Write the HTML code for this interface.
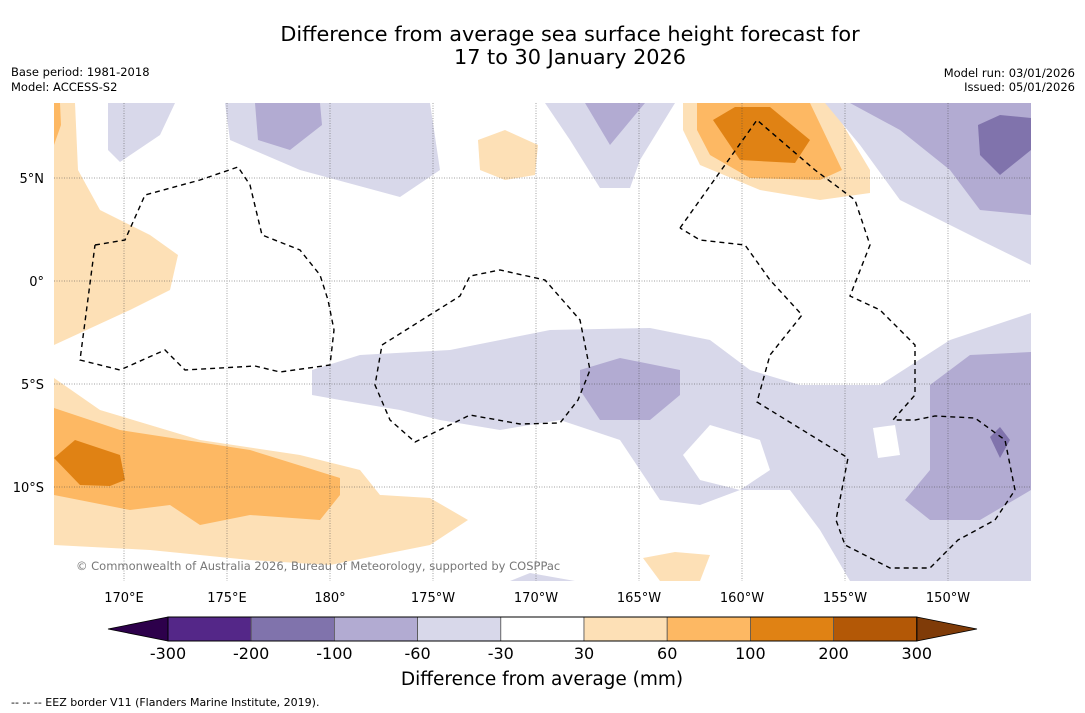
<!DOCTYPE html>
<html><head><meta charset="utf-8"><style>
body{margin:0;background:#fff;font-family:"DejaVu Sans","Liberation Sans",sans-serif}
svg{display:block}
</style></head><body>
<svg id="c" width="1085" height="713" viewBox="0 0 1085 713">
<text x="570" y="41" font-size="20.8" text-anchor="middle">Difference from average sea surface height forecast for</text>
<text x="570" y="64" font-size="20.8" text-anchor="middle">17 to 30 January 2026</text>
<text x="11" y="76" font-size="11.5">Base period: 1981-2018</text>
<text x="11" y="91" font-size="11.5">Model: ACCESS-S2</text>
<text x="1075" y="77" font-size="11.5" text-anchor="end">Model run: 03/01/2026</text>
<text x="1075" y="91" font-size="11.5" text-anchor="end">Issued: 05/01/2026</text>
<defs><clipPath id="mc"><rect x="54" y="103" width="977" height="478"/></clipPath></defs>
<g clip-path="url(#mc)">
<g stroke="none">
<path fill="#fde0b6" d="M54,103 L75,103 L78,170 L100,210 L150,235 L178,255 L170,290 L130,310 L54,345Z"/>
<path fill="#fdb863" d="M54,103 L60,103 L61,125 L54,145Z"/>
<path fill="#fde0b6" d="M54,378 L100,410 L200,440 L300,455 L360,470 L380,495 L430,498 L468,520 L430,545 L330,565 L250,560 L150,550 L54,545Z"/>
<path fill="#fdb863" d="M54,408 L120,430 L250,450 L340,478 L340,495 L320,520 L250,515 L200,525 L170,505 L130,510 L54,495Z"/>
<path fill="#e08214" d="M54,458 L75,440 L120,455 L125,480 L110,486 L80,485Z"/>
<path fill="#d8d8ea" d="M108,103 L175,103 L160,135 L120,162 L108,150Z"/>
<path fill="#d8d8ea" d="M225,103 L430,103 L440,170 L400,197 L300,170 L230,140Z"/>
<path fill="#b2abd2" d="M255,103 L320,103 L322,125 L290,150 L258,140Z"/>
<path fill="#d8d8ea" d="M545,103 L675,103 L640,160 L630,188 L600,188 L570,140Z"/>
<path fill="#b2abd2" d="M585,103 L645,103 L610,145Z"/>
<path fill="#fde0b6" d="M478,140 L505,130 L538,145 L535,175 L505,180 L480,170Z"/>
<path fill="#fde0b6" d="M683,103 L830,103 L870,170 L870,193 L820,200 L760,190 L700,165 L683,130Z"/>
<path fill="#fdb863" d="M697,103 L810,103 L842,170 L820,180 L750,178 L710,155 L697,130Z"/>
<path fill="#e08214" d="M713,120 L735,107 L770,107 L810,140 L795,163 L740,160Z"/>
<path fill="#d8d8ea" d="M825,103 L1031,103 L1031,265 L980,240 L900,200 L860,145Z"/>
<path fill="#b2abd2" d="M850,103 L1031,103 L1031,215 L980,210 L950,170 L900,130Z"/>
<path fill="#8073ac" d="M978,125 L1000,115 L1031,118 L1031,150 L1000,175 L980,155Z"/>
<path fill="#d8d8ea" fill-rule="evenodd" d="M312,370 L360,355 L450,350 L550,330 L650,328 L710,340 L750,370 L800,385 L880,385 L950,340 L1031,313 L1031,581 L850,581 L820,530 L790,490 L740,490 L700,505 L660,500 L640,470 L620,440 L560,420 L500,430 L440,420 L400,410 L340,400 L312,395Z M683,455 L710,425 L760,440 L770,470 L740,490 L700,480Z M873,428 L895,425 L900,455 L878,458Z"/>
<path fill="#b2abd2" d="M580,370 L620,358 L680,370 L680,395 L650,420 L600,420 L580,390Z"/>
<path fill="#b2abd2" d="M930,385 L970,355 L1031,352 L1031,490 L980,520 L930,520 L905,500 L930,470Z"/>
<path fill="#8073ac" d="M990,437 L1000,427 L1010,440 L1000,458Z"/>
<path fill="#fde0b6" d="M643,558 L675,552 L710,555 L700,581 L660,581Z"/>
<path fill="#d8d8ea" d="M510,581 L530,573 L575,581Z"/>
</g>
<g stroke="#444" stroke-width="0.5" stroke-dasharray="1,1.5" id="grid"></g>
<g fill="none" stroke="#000" stroke-width="1.4" stroke-dasharray="5,4">
<path d="M95,245 L125,240 L145,195 L200,180 L238,167 L250,185 L262,235 L300,250 L320,275 L328,300 L334,330 L330,365 L280,372 L255,366 L185,370 L165,350 L120,370 L80,360 L95,245"/>
<path d="M382,345 L460,296 L470,276 L500,270 L545,280 L580,320 L590,370 L578,400 L560,423 L520,424 L470,415 L415,442 L390,420 L375,385 L382,345"/>
<path d="M680,228 L757,120 L815,170 L855,200 L870,245 L850,296 L880,310 L915,345 L915,395 L893,420 L915,420 L935,416 L975,418 L1005,440 L1015,490 L995,520 L958,540 L930,568 L890,568 L845,545 L836,520 L848,458 L757,402 L770,355 L802,315 L770,280 L745,245 L700,240 L680,228"/>
</g>
<text x="76" y="570" font-size="11.5" fill="#777">© Commonwealth of Australia 2026, Bureau of Meteorology, supported by COSPPac</text>
</g>
<g id="axes" font-size="13"></g>
<g id="cbar"></g>
<text x="542" y="685" font-size="18.5" text-anchor="middle">Difference from average (mm)</text>
<text x="11" y="706" font-size="11">--  --  -- EEZ border V11 (Flanders Marine Institute, 2019).</text>
</svg>
<script>
const lonTicks=[170,175,180,-175,-170,-165,-160,-155,-150];
const lonLabels=["170°E","175°E","180°","175°W","170°W","165°W","160°W","155°W","150°W"];
const latTicks=[5,0,-5,-10];
const latLabels=["5°N","0°","5°S","10°S"];
const levels=["-300","-200","-100","-60","-30","30","60","100","200","300"];
const colors=["#542788","#8073ac","#b2abd2","#d8d8ea","#ffffff","#fde0b6","#fdb863","#e08214","#b35806"];
const NS="http://www.w3.org/2000/svg";
const x=l=>{let d=l<0?l+360:l;return 124+(d-170)*20.6;};
const y=la=>281-la*20.6;
function mk(t,a,p){const e=document.createElementNS(NS,t);for(const k in a)e.setAttribute(k,a[k]);p.appendChild(e);return e;}
const grid=document.getElementById('grid'),axes=document.getElementById('axes'),cb=document.getElementById('cbar');
lonTicks.forEach((l,i)=>{const g=mk('line',{x1:x(l),x2:x(l),y1:103,y2:581},grid);


const t=mk('text',{x:x(l),y:602,'text-anchor':'middle'},axes);t.textContent=lonLabels[i];

});
latTicks.forEach((la,i)=>{const g=mk('line',{x1:54,x2:1031,y1:y(la),y2:y(la)},grid);


const t=mk('text',{x:44,y:y(la)+5,'text-anchor':'end'},axes);t.textContent=latLabels[i];

});
const x0=168,w=83.2,y0=617,h=24;
const lt=mk('polygon',{points:`108,629 ${x0},${y0} ${x0},${y0+h}`,fill:'#2d004b',stroke:'#000','stroke-width':0.8},cb);


colors.forEach((c,i)=>{const r=mk('rect',{x:x0+i*w,y:y0,width:w,height:h,fill:c,stroke:'#555','stroke-width':0.8},cb);

});
const xe=x0+colors.length*w;
const rt=mk('polygon',{points:`${xe},${y0} 977,629 ${xe},${y0+h}`,fill:'#7f3b08',stroke:'#000','stroke-width':0.8},cb);


mk('rect',{x:x0,y:y0,width:xe-x0,height:h,fill:'none',stroke:'#000','stroke-width':1},cb);
levels.forEach((v,i)=>{const t=mk('text',{x:x0+i*w,y:659,'text-anchor':'middle','font-size':16},cb);t.textContent=v;

});
</script>
</body></html>
